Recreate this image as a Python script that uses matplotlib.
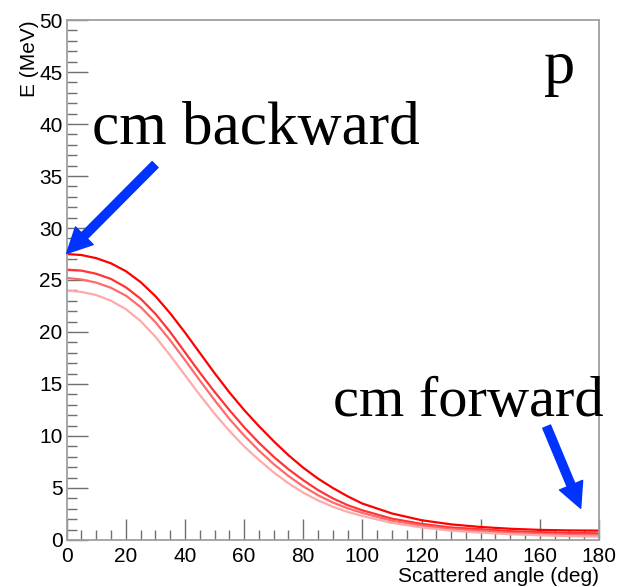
#!/usr/bin/env python3
# coding: utf-8

"""
Proton energy vs scattered angle, with cm backward / forward arrows
"""

import matplotlib
matplotlib.use('Agg')
import matplotlib.pyplot as plt
from matplotlib.ticker import MultipleLocator

angle = [0, 5, 10, 15, 20, 25, 30, 35, 40, 45, 50, 55, 60, 65, 70, 75,
         80, 85, 90, 95, 100, 110, 120, 130, 140, 150, 160, 170, 180]

e_1 = [27.5, 27.4, 27.1, 26.6, 25.85, 24.8, 23.45, 21.8, 19.95, 18.0,
       16.05, 14.2, 12.5, 10.95, 9.5, 8.15, 6.95, 5.9, 5.0, 4.2,
       3.5, 2.55, 1.9, 1.5, 1.25, 1.08, 0.97, 0.92, 0.9]
e_2 = [26.0, 25.9, 25.6, 25.1, 24.3, 23.2, 21.75, 20.0, 18.05, 16.1,
       14.25, 12.5, 10.85, 9.35, 8.0, 6.8, 5.75, 4.8, 4.0, 3.35,
       2.85, 2.05, 1.55, 1.2, 1.03, 0.85, 0.75, 0.68, 0.64]
e_3 = [25.2, 25.05, 24.75, 24.25, 23.5, 22.4, 20.95, 19.2, 17.3, 15.35,
       13.45, 11.65, 10.05, 8.6, 7.3, 6.15, 5.15, 4.3, 3.6, 3.05,
       2.6, 1.85, 1.38, 1.05, 0.87, 0.68, 0.58, 0.5, 0.48]
e_4 = [24.0, 23.85, 23.55, 23.0, 22.2, 21.05, 19.55, 17.75, 15.85, 13.95,
       12.15, 10.5, 9.0, 7.7, 6.5, 5.45, 4.55, 3.8, 3.2, 2.7,
       2.3, 1.65, 1.2, 0.9, 0.7, 0.55, 0.45, 0.37, 0.32]

curves = [e_1, e_2, e_3, e_4]
colors = ['#ff0000', '#ff3535', '#ff6a6a', '#ffaaaa']

# arrows: (tail, head) in data units
arrow_back = ((29.9, 36.1), (0.0, 27.55))
arrow_fwd = ((162.3, 10.9), (173.8, 3.05))


def main():
    plt.rcParams['font.family'] = ['Liberation Sans', 'DejaVu Sans']

    fig = plt.figure(figsize=(6.19, 5.87), dpi=100)
    ax = fig.add_axes([0.1077, 0.0801, 0.86, 0.8858])

    for vals, col in zip(curves, colors):
        ax.plot(angle, vals, color=col, lw=1.6)

    ax.set_xlim(0, 180)
    ax.set_ylim(0, 50)
    ax.xaxis.set_major_locator(MultipleLocator(20))
    ax.xaxis.set_minor_locator(MultipleLocator(5))
    ax.yaxis.set_major_locator(MultipleLocator(5))
    ax.yaxis.set_minor_locator(MultipleLocator(1))
    ax.tick_params(which='both', direction='in', color='#707070', width=1,
                   labelsize=15, top=False, right=False)
    ax.tick_params(which='major', length=15)
    ax.tick_params(which='minor', length=7.5)
    ax.tick_params(axis='x', pad=5)
    ax.tick_params(axis='y', pad=3)
    for sp in ax.spines.values():
        sp.set_color('#a0a0a0')
        sp.set_linewidth(1.3)

    ax.set_xlabel('Scattered angle (deg)', loc='right', fontsize=15, labelpad=0.5)
    ax.set_ylabel('E (MeV)', loc='top', fontsize=15, labelpad=0)

    serif = ['Liberation Serif', 'DejaVu Serif']
    ax.text(8.6, 38.1, 'cm backward', family=serif, fontsize=44,
            ha='left', va='baseline')
    ax.text(90.1, 11.9, 'cm forward', family=serif, fontsize=42,
            ha='left', va='baseline')
    ax.text(161.5, 43.9, 'p', family=serif, fontsize=45,
            ha='left', va='baseline')

    style = 'simple,head_length=0.9,head_width=0.9,tail_width=0.3'
    for tail, head in (arrow_back, arrow_fwd):
        ax.annotate('', xy=head, xytext=tail, annotation_clip=False,
                    arrowprops=dict(arrowstyle=style, color='#0033ff',
                                    mutation_scale=20, shrinkA=0, shrinkB=0))

    fig.savefig('out.png', dpi=100)


if __name__ == '__main__':
    main()
